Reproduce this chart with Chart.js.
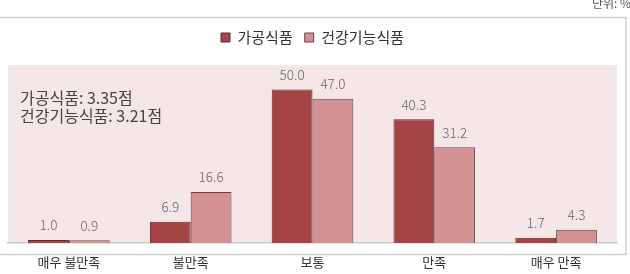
<!DOCTYPE html>
<html>
<head>
<meta charset="utf-8">
<script src="https://cdn.jsdelivr.net/npm/chart.js@4"></script>
<style>
  body { margin: 0; background: #fff; }
  #wrap { width: 630px; height: 274px; position: relative; }
</style>
</head>
<body>
<div id="wrap"><canvas id="chart" width="630" height="274"></canvas></div>
<script>
const categories = ["매우 불만족", "불만족", "보통", "만족", "매우 만족"];
const processed = [1.0, 6.9, 50.0, 40.3, 1.7];
const healthFood = [0.9, 16.6, 47.0, 31.2, 4.3];
const seriesNames = ["가공식품", "건강기능식품"];
const scoreNotes = ["가공식품: 3.35점", "건강기능식품: 3.21점"];

const FONT = "'Noto Sans CJK KR', 'Noto Sans', sans-serif";

//give the legend some extra room below it
const legendGap = {
  id: "legendGap",
  beforeInit(chart) {
    const fit = chart.legend.fit;
    chart.legend.fit = function () {
      fit.bind(chart.legend)();
      this.height += 10;
    };
  },
};

//frame, pink plot background, notes and value labels
const decorations = {
  id: "decorations",
  beforeDraw(chart) {
    const { ctx, chartArea } = chart;
    ctx.save();
    ctx.fillStyle = "#f5e7e8";
    ctx.fillRect(chartArea.left, chartArea.top, chartArea.right - chartArea.left, chartArea.bottom - chartArea.top);
    ctx.strokeStyle = "#cfcfcf";
    ctx.lineWidth = 1.5;
    ctx.strokeRect(-2, 17.5, 628, 237);
    ctx.fillStyle = "#555";
    ctx.font = "12px " + FONT;
    ctx.textAlign = "left";
    ctx.fillText("단위: %", 592, 3);
    ctx.restore();
  },
  afterDatasetsDraw(chart) {
    const { ctx } = chart;
    ctx.save();
    ctx.font = "300 13.5px " + FONT;
    ctx.fillStyle = "#666";
    ctx.textAlign = "center";
    ctx.textBaseline = "bottom";
    chart.data.datasets.forEach((ds, i) => {
      chart.getDatasetMeta(i).data.forEach((bar, j) => {
        ctx.fillText(ds.data[j].toFixed(1), bar.x, bar.y - 8);
      });
    });
    ctx.font = "16px " + FONT;
    ctx.fillStyle = "#444";
    ctx.textAlign = "left";
    ctx.textBaseline = "middle";
    scoreNotes.forEach((t, i) => ctx.fillText(t, 20, 98 + i * 18));
    ctx.restore();
  },
};

let ctx = document.querySelector("#chart");
let barChart = new Chart(ctx, {
  type: "bar",
  data: {
    labels: categories,
    datasets: [
      {
        label: seriesNames[0],
        data: processed,
        backgroundColor: "#a54446",
        borderColor: "#5e2a2a",
        borderWidth: 1,
      },
      {
        label: seriesNames[1],
        data: healthFood,
        backgroundColor: "#d29192",
        borderColor: "#6e4040",
        borderWidth: 1,
      },
    ],
  },
  options: {
    responsive: false,
    animation: false,
    categoryPercentage: 0.67,
    barPercentage: 1,
    layout: { padding: { top: 18, left: 8, right: 13, bottom: 0 } },
    plugins: {
      legend: {
        position: "top",
        labels: {
          boxWidth: 9,
          boxHeight: 9,
          padding: 12,
          color: "#333",
          font: { family: FONT, size: 15 },
        },
      },
      tooltip: { enabled: false },
    },
    scales: {
      x: {
        grid: { display: false },
        border: { color: "#cccccc", width: 1.5 },
        ticks: { color: "#333", padding: 3, font: { family: FONT, size: 13 } },
        afterFit(scale) {
          scale.height = 31;
        },
      },
      y: {
        display: false,
        min: 0,
        max: 58,
      },
    },
  },
  plugins: [legendGap, decorations],
});
</script>
</body>
</html>
